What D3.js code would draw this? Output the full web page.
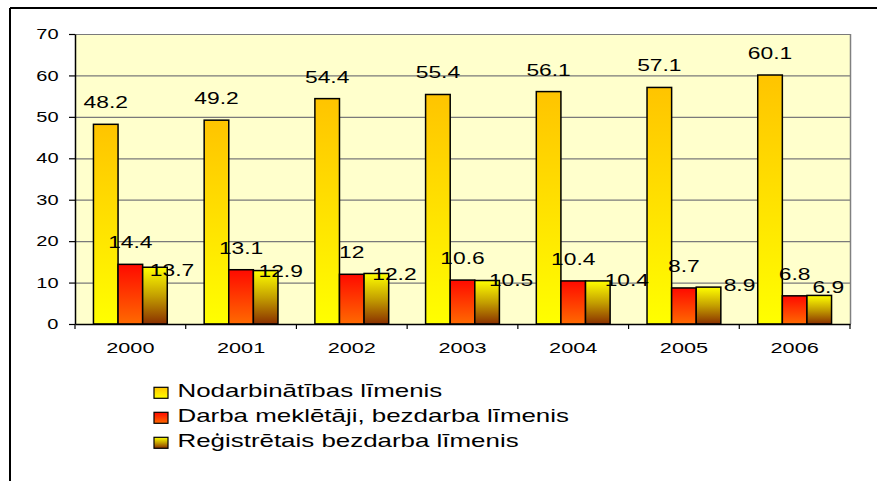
<!DOCTYPE html>
<html>
<head>
<meta charset="utf-8">
<script src="https://cdn.jsdelivr.net/npm/d3@7"></script>
<style>
  html, body { margin: 0; padding: 0; background: #ffffff; }
  svg { display: block; }
  text { font-family: "Liberation Sans", Arial, sans-serif; fill: #000; }
</style>
</head>
<body>
<svg id="chart" width="877" height="481"></svg>
<script>
// ---- data ----
const years = ["2000", "2001", "2002", "2003", "2004", "2005", "2006"];
const seriesNames = [
  "Nodarbinātības līmenis",
  "Darba meklētāji, bezdarba līmenis",
  "Reģistrētais bezdarba līmenis"
];
const employment = [48.2, 49.2, 54.4, 55.4, 56.1, 57.1, 60.1];
const jobSeekers = [14.4, 13.1, 12, 10.6, 10.4, 8.7, 6.8];
const registered = [13.7, 12.9, 12.2, 10.5, 10.4, 8.9, 6.9];
const yTicks = [0, 10, 20, 30, 40, 50, 60, 70];
// label nudges (px) for the third series' value labels, as placed in the original
const registeredLabelNudge = [[17, 9], [15, 6], [18, 6.5], [24, 5.5], [29, 5], [31, 3.5], [9, -2.4]];

const seriesValues = [employment, jobSeekers, registered];
const keys = ["s0", "s1", "s2"];
const SX = 1.4; // horizontal text stretch of the original

const svg = d3.select("#chart");

// gradients
const defs = svg.append("defs");
const gradStops = [
  [[0, "#FFC400"], [1, "#FFFF00"]],
  [[0, "#FF0A00"], [1, "#FF6A00"]],
  [[0, "#FFFF00"], [0.5, "#C4A000"], [1, "#8A3000"]]
];
gradStops.forEach((stops, i) => {
  const g = defs.append("linearGradient").attr("id", "g" + i)
    .attr("x1", 0).attr("y1", 0).attr("x2", 0).attr("y2", 1);
  stops.forEach(s => g.append("stop").attr("offset", s[0]).attr("stop-color", s[1]));
});

// outer frame (top and left lines)
svg.append("line").attr("x1", 10).attr("x2", 877).attr("y1", 8).attr("y2", 8)
  .attr("stroke", "#000").attr("stroke-width", 2);
svg.append("line").attr("x1", 10).attr("x2", 10).attr("y1", 8).attr("y2", 481)
  .attr("stroke", "#000").attr("stroke-width", 2);

// scales
const plotL = 75, plotR = 850, plotT = 34, plotB = 324;
const y = d3.scaleLinear().domain([0, 70]).range([plotB, plotT]);
const x0 = d3.scaleBand().domain(years).range([plotL, plotR]).padding(0);
const x1 = d3.scaleBand().domain(keys).range([0, x0.bandwidth()]).paddingInner(0).paddingOuter(0.75);

// plot background
svg.append("rect").attr("x", plotL).attr("y", plotT)
  .attr("width", plotR - plotL).attr("height", plotB - plotT)
  .attr("fill", "#FFFFCC");

// gridlines
svg.append("g").selectAll("line").data(yTicks.filter(d => d > 0)).join("line")
  .attr("x1", plotL).attr("x2", plotR)
  .attr("y1", d => y(d) + 0.5).attr("y2", d => y(d) + 0.5)
  .attr("stroke", "#7a7a7a").attr("stroke-width", 1.2);
// right border
svg.append("line").attr("x1", plotR + 0.5).attr("x2", plotR + 0.5)
  .attr("y1", plotT).attr("y2", plotB).attr("stroke", "#808080").attr("stroke-width", 1.5);

// bars
const groups = svg.append("g").selectAll("g").data(years).join("g")
  .attr("transform", d => `translate(${x0(d)},0)`);
groups.selectAll("rect")
  .data((d, i) => keys.map((k, s) => ({ k, s, v: seriesValues[s][i] })))
  .join("rect")
  .attr("x", d => x1(d.k))
  .attr("width", x1.bandwidth())
  .attr("y", d => y(d.v))
  .attr("height", d => y(0) - y(d.v))
  .attr("fill", d => `url(#g${d.s})`)
  .attr("stroke", "#000").attr("stroke-width", 1.5);

// helper for stretched text
function stretchedText(parent, x, yy, txt, size, anchor) {
  return parent.append("text")
    .attr("transform", `translate(${x},${yy}) scale(${SX},1)`)
    .attr("text-anchor", anchor || "middle")
    .attr("font-size", size)
    .text(txt);
}

// value labels
const labelsG = svg.append("g");
years.forEach((yr, i) => {
  keys.forEach((k, s) => {
    const v = seriesValues[s][i];
    const cx = x0(yr) + x1(k) + x1.bandwidth() / 2;
    let lx = cx, ly = y(v) - 16;
    if (s === 2) {
      lx = cx + registeredLabelNudge[i][0];
      ly = y(v) + registeredLabelNudge[i][1];
    }
    stretchedText(labelsG, lx, ly, String(v), 16.3, "middle");
  });
});

// y axis
const yAxis = svg.append("g").attr("transform", `translate(${plotL},0)`)
  .call(d3.axisLeft(y).tickValues(yTicks).tickSize(6).tickSizeOuter(0).tickFormat(d3.format("d")));
yAxis.select(".domain").attr("stroke", "#000").attr("stroke-width", 1.5);
yAxis.selectAll(".tick line").attr("stroke", "#000").attr("stroke-width", 1.2);
yAxis.selectAll(".tick text")
  .attr("x", null)
  .attr("transform", `translate(-16.5,0) scale(${SX},1)`)
  .attr("font-size", 14.3)
  .attr("font-family", "Liberation Sans, Arial, sans-serif")
  .attr("fill", "#000");

// x axis
const xAxis = svg.append("g").attr("transform", `translate(0,${plotB})`)
  .call(d3.axisBottom(x0).tickSize(0).tickSizeOuter(0));
xAxis.select(".domain").attr("stroke", "#000").attr("stroke-width", 1.5);
xAxis.selectAll(".tick text")
  .attr("y", null).attr("dy", null)
  .attr("transform", `translate(0,29.3) scale(${SX},1)`)
  .attr("font-size", 15.5)
  .attr("font-family", "Liberation Sans, Arial, sans-serif")
  .attr("fill", "#000");
// category boundary ticks
const bounds = years.map(d => x0(d)).concat([plotR]);
svg.append("g").selectAll("line").data(bounds).join("line")
  .attr("x1", d => d).attr("x2", d => d)
  .attr("y1", plotB).attr("y2", plotB + 5)
  .attr("stroke", "#000").attr("stroke-width", 1.2);

// legend
const legend = svg.append("g");
seriesNames.forEach((name, i) => {
  const base = 397.3 + i * 25;
  legend.append("rect").attr("x", 154).attr("y", base - 10)
    .attr("width", 14).attr("height", 11)
    .attr("fill", `url(#g${i})`).attr("stroke", "#000").attr("stroke-width", 1.2);
  stretchedText(legend, 177.5, base, name, 18.5, "start");
});
</script>
</body>
</html>
